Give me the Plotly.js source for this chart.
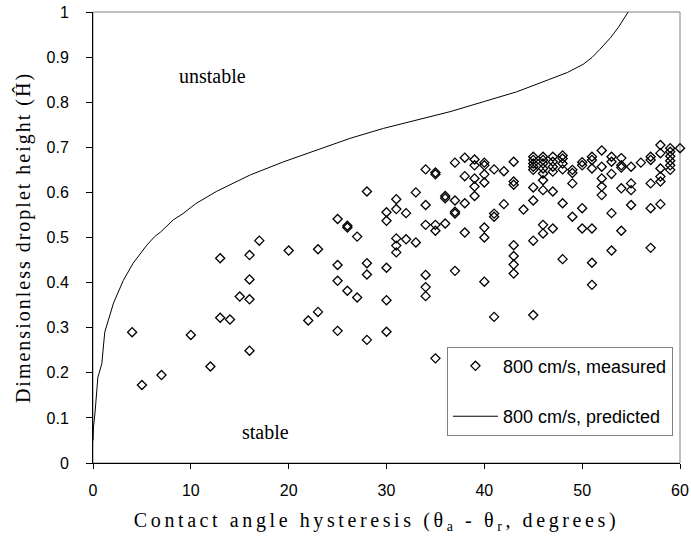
<!DOCTYPE html>
<html><head><meta charset="utf-8">
<script src="https://cdn.plot.ly/plotly-3.0.1.min.js"></script>
<style>
html,body{margin:0;padding:0;background:#fff;}
#chart{width:691px;height:550px;}
.xtitle{letter-spacing:3.6px;}
.ytitle{letter-spacing:2px;}
.g-xtitle{transform:translateX(-10px);}
</style></head><body><div id="chart"></div>
<script>
// Measured points: x = contact angle hysteresis (deg), y = dimensionless height
const measuredX = [
 4,5,7,10,12,13,13,14,15,16,16,16,16,17,20,22,23,23,
 25,25,25,25,26,26,26,27,27,28,28,28,28,
 30,30,30,30,30,31,31,31,31,31,32,32,33,33,
 34,34,34,34,34,34,35,35,35,35,35,36,36,36,
 37,37,37,37,37,38,38,38,38,39,39,39,39,39,
 40,40,40,40,40,40,40,41,41,41,41,42,42,
 43,43,43,43,43,43,43,44,
 45,45,45,45,45,45,45,45,45,
 46,46,46,46,46,46,46,46,46,
 47,47,47,47,47,47,48,48,48,48,48,48,
 49,49,49,49,50,50,50,50,51,51,51,51,51,51,
 52,52,52,52,52,53,53,53,53,53,54,54,54,54,54,
 55,55,55,55,56,57,57,57,57,57,
 58,58,58,58,58,58,59,59,59,59,59,59,60
];
const measuredY = [
 0.290,0.173,0.195,0.284,0.214,0.322,0.454,0.318,0.369,0.249,0.363,0.407,0.461,0.493,0.471,0.316,0.335,0.474,
 0.293,0.404,0.439,0.541,0.382,0.522,0.526,0.367,0.502,0.273,0.418,0.443,0.602,
 0.291,0.361,0.433,0.537,0.556,0.467,0.482,0.498,0.563,0.585,0.496,0.554,0.489,0.600,
 0.370,0.390,0.417,0.528,0.572,0.651,0.232,0.515,0.528,0.640,0.644,0.531,0.587,0.592,
 0.426,0.553,0.557,0.582,0.666,0.511,0.576,0.636,0.677,0.592,0.613,0.631,0.660,0.673,
 0.402,0.500,0.522,0.622,0.640,0.660,0.666,0.324,0.546,0.553,0.651,0.574,0.647,
 0.420,0.440,0.459,0.483,0.617,0.624,0.668,0.562,
 0.328,0.493,0.582,0.611,0.650,0.657,0.664,0.672,0.679,
 0.509,0.528,0.605,0.627,0.642,0.653,0.664,0.672,0.679,
 0.520,0.602,0.646,0.657,0.668,0.679,0.452,0.576,0.651,0.664,0.675,0.682,
 0.546,0.620,0.643,0.650,0.520,0.565,0.660,0.667,0.395,0.444,0.520,0.653,0.672,0.679,
 0.594,0.613,0.631,0.657,0.693,0.471,0.554,0.641,0.668,0.679,0.515,0.609,0.655,0.660,0.676,
 0.572,0.605,0.620,0.657,0.666,0.477,0.565,0.620,0.672,0.679,
 0.574,0.624,0.635,0.653,0.687,0.705,0.650,0.660,0.670,0.680,0.690,0.698,0.698
];
// Predicted stability boundary
const predictedX = [0,0.05,0.2,0.5,0.9,1.2,2.1,3.1,4.1,5.5,6.3,6.9,8.2,9.2,10.5,12.6,16.1,19.5,22.9,26.3,29.7,33.1,36.5,39.9,43.3,46.7,48.5,50.1,51.0,51.8,52.9,53.7,54.4,54.7];
const predictedY = [0.05,0.08,0.11,0.19,0.22,0.29,0.355,0.405,0.443,0.483,0.502,0.512,0.539,0.553,0.575,0.602,0.639,0.668,0.694,0.720,0.742,0.761,0.779,0.801,0.823,0.851,0.866,0.884,0.899,0.917,0.943,0.966,0.988,1.0];

const xTickVals = [0,10,20,30,40,50,60];
const yTickVals = [0,0.1,0.2,0.3,0.4,0.5,0.6,0.7,0.8,0.9,1];
const yTickText = ['0','0.1','0.2','0.3','0.4','0.5','0.6','0.7','0.8','0.9','1'];
const seriesNames = ['800 cm/s, measured','800 cm/s, predicted'];
const regionLabels = ['unstable','stable'];
const regionX = [12.2, 17.6];
const regionY = [0.858, 0.069];

const sans = 'Liberation Sans, Arial, sans-serif';
const serif = 'Liberation Serif, Times New Roman, serif';

const traces = [
  {type:'scatter', mode:'markers', x:measuredX, y:measuredY, name:seriesNames[0],
   legendgroup:'g1', cliponaxis:false,
   marker:{symbol:'diamond-open', size:7, color:'#000', line:{width:1.3, color:'#000'}}},
  {type:'scatter', mode:'lines', x:predictedX, y:predictedY, name:seriesNames[1],
   legendgroup:'g2', line:{color:'#000', width:1}}
];

const layout = {
  width:691, height:550,
  margin:{l:93, r:11, t:12, b:87},
  paper_bgcolor:'#fff', plot_bgcolor:'#fff',
  showlegend:true,
  xaxis:{range:[0,60], tickvals:xTickVals, ticks:'outside', ticklen:5, tickcolor:'#000',
    showline:true, linecolor:'#000', linewidth:1, showgrid:false, zeroline:false,
    tickfont:{family:sans, size:16, color:'#000'}, ticklabelstandoff:8,
    title:{text:'Contact angle hysteresis (θ<sub>a</sub> - θ<sub>r</sub>, degrees)',
      font:{family:serif, size:20, color:'#000'}, standoff:14}},
  yaxis:{range:[0,1], tickvals:yTickVals, ticktext:yTickText, ticks:'outside', ticklen:6, tickcolor:'#000',
    showline:true, linecolor:'#000', linewidth:1, showgrid:false, zeroline:false,
    tickfont:{family:sans, size:16, color:'#000'}, ticklabelstandoff:14,
    title:{text:'Dimensionless droplet height (Ĥ)', font:{family:serif, size:20, color:'#000'}, standoff:10}},
  legend:{x:0.603, y:0.258, xanchor:'left', yanchor:'top', bgcolor:'#fff',
    bordercolor:'#808080', borderwidth:1, font:{family:sans, size:18, color:'#000'},
    traceorder:'grouped', tracegroupgap:24, itemwidth:45},
  shapes:[{type:'rect', xref:'paper', yref:'paper', x0:0, x1:1, y0:0, y1:1,
    line:{color:'#808080', width:1}, layer:'below'}],
  annotations: regionLabels.map((t,i)=>({x:regionX[i], y:regionY[i], xref:'x', yref:'y', text:t,
    showarrow:false, font:{family:serif, size:20, color:'#000'}}))
};

Plotly.newPlot('chart', traces, layout, {displayModeBar:false, staticPlot:true});
</script></body></html>
